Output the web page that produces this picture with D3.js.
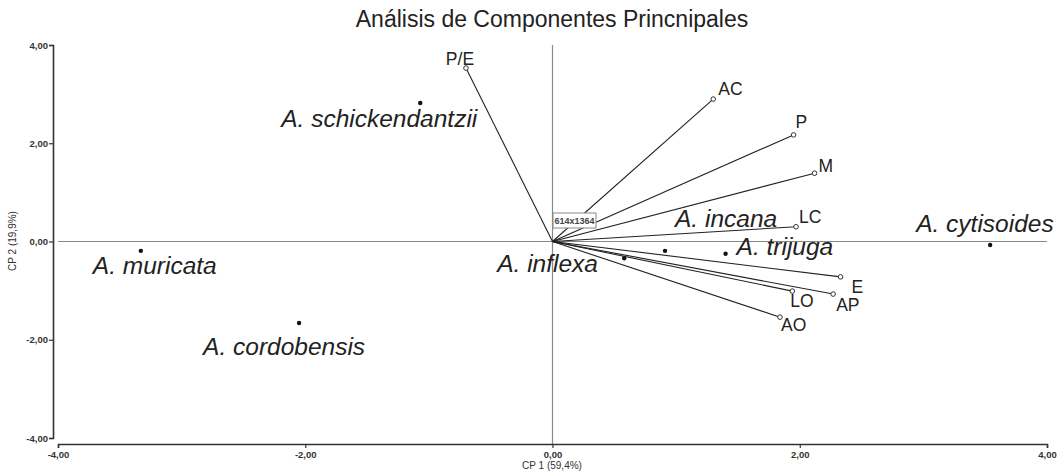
<!DOCTYPE html>
<html>
<head>
<meta charset="utf-8">
<script src="https://cdn.jsdelivr.net/npm/d3@7"></script>
<style>
  body { margin: 0; background: #fff; }
  svg text { font-family: "Liberation Sans", Arial, sans-serif; }
</style>
</head>
<body>
<div id="chart"></div>
<script>
// species scores
var species = ["A. muricata", "A. cordobensis", "A. schickendantzii", "A. inflexa", "A. incana", "A. trijuga", "A. cytisoides"];
var speciesX = [-3.33, -2.05, -1.07, 0.58, 0.91, 1.40, 3.54];
var speciesY = [-0.19, -1.66, 2.82, -0.34, -0.19, -0.25, -0.07];

// variable loadings
var variables = ["P/E", "AC", "P", "M", "LC", "E", "AP", "LO", "AO"];
var varX = [-0.70, 1.30, 1.95, 2.12, 1.97, 2.33, 2.27, 1.94, 1.84];
var varY = [3.53, 2.90, 2.17, 1.39, 0.30, -0.72, -1.07, -1.01, -1.54];

var ticks = [-4, -2, 0, 2, 4];

var width = 1063, height = 473;

var svg = d3.select("#chart").append("svg")
    .attr("width", width)
    .attr("height", height);

var x = d3.scaleLinear().domain([-4, 4]).range([58, 1047]);
var y = d3.scaleLinear().domain([-4, 4]).range([438, 45]);

var fmt = function(d) { return d3.format(".2f")(d).replace(".", ",").replace("\u2212", "-"); };

// title
svg.append("text")
    .attr("x", 552).attr("y", 27)
    .attr("text-anchor", "middle")
    .style("font-size", "23px")
    .style("fill", "#222")
    .text("Análisis de Componentes Princnipales");

// zero lines
svg.append("line")
    .attr("x1", x(-4)).attr("x2", x(4))
    .attr("y1", y(0)).attr("y2", y(0))
    .style("stroke", "#888").style("stroke-width", 1.2);
svg.append("line")
    .attr("x1", x(0)).attr("x2", x(0))
    .attr("y1", y(4)).attr("y2", 444)
    .style("stroke", "#888").style("stroke-width", 1.2);

// axes
var yAxis = svg.append("g")
    .attr("transform", "translate(53,0)")
    .call(d3.axisLeft(y).tickValues(ticks).tickFormat(fmt).tickSizeOuter(0).tickSize(4));
var xAxis = svg.append("g")
    .attr("transform", "translate(0,444)")
    .call(d3.axisBottom(x).tickValues(ticks).tickFormat(fmt).tickSizeOuter(0).tickSize(4));

[xAxis, yAxis].forEach(function(a) {
    a.select(".domain").style("stroke", "#333").style("stroke-width", 1.6);
    a.selectAll(".tick line").style("stroke", "#333").style("stroke-width", 1.2);
    a.selectAll(".tick text")
        .style("font-size", "9.5px")
        .style("font-weight", "bold")
        .style("fill", "#333")
        .style("font-family", "'Liberation Sans Narrow', 'Liberation Sans', Arial, sans-serif");
});
yAxis.selectAll(".tick text").attr("x", -5);

// axis titles
svg.append("text")
    .attr("x", 552).attr("y", 469)
    .attr("text-anchor", "middle")
    .style("font-size", "10px")
    .style("fill", "#333")
    .text("CP 1 (59,4%)");
svg.append("text")
    .attr("transform", "translate(16,241) rotate(-90)")
    .attr("text-anchor", "middle")
    .style("font-size", "10px")
    .style("fill", "#333")
    .text("CP 2 (19,9%)");

// vectors
var varLabelOff = {
    "P/E": [-6, -3, "middle"], "AC": [5, -4, "start"], "P": [2, -7, "start"],
    "M": [4, -1, "start"], "LC": [3, -4, "start"], "E": [11, 16, "start"],
    "AP": [3, 17, "start"], "LO": [-2, 16, "start"], "AO": [1, 14, "start"]
};

var vecs = svg.append("g").selectAll("g")
    .data(variables)
    .enter().append("g");

vecs.append("line")
    .attr("x1", x(0)).attr("y1", y(0))
    .attr("x2", function(d, i) { return x(varX[i]); })
    .attr("y2", function(d, i) { return y(varY[i]); })
    .style("stroke", "#222").style("stroke-width", 1.1);

// the small size box over the origin
svg.append("rect")
    .attr("x", 553).attr("y", 213).attr("width", 43).attr("height", 15)
    .style("fill", "#fff").style("stroke", "#888").style("stroke-width", 1);
svg.append("text")
    .attr("x", 574.5).attr("y", 224)
    .attr("text-anchor", "middle")
    .style("font-size", "9px")
    .style("font-weight", "bold")
    .style("fill", "#444")
    .style("font-family", "'Liberation Sans Narrow', 'Liberation Sans', Arial, sans-serif")
    .text("614x1364");

vecs.append("circle")
    .attr("cx", function(d, i) { return x(varX[i]); })
    .attr("cy", function(d, i) { return y(varY[i]); })
    .attr("r", 2.3)
    .style("fill", "#fff").style("stroke", "#333").style("stroke-width", 1);

vecs.append("text")
    .attr("x", function(d, i) { return x(varX[i]) + varLabelOff[d][0]; })
    .attr("y", function(d, i) { return y(varY[i]) + varLabelOff[d][1]; })
    .attr("text-anchor", function(d) { return varLabelOff[d][2]; })
    .style("font-size", "17.5px")
    .style("fill", "#222")
    .text(function(d) { return d; });

// species
var spLabelOff = {
    "A. muricata": [-48, 23], "A. cordobensis": [-96, 32], "A. schickendantzii": [-139, 24],
    "A. inflexa": [-127, 14], "A. incana": [10, -24], "A. trijuga": [11, 1], "A. cytisoides": [-74, -13]
};

var sp = svg.append("g").selectAll("g")
    .data(species)
    .enter().append("g");

sp.append("circle")
    .attr("cx", function(d, i) { return x(speciesX[i]); })
    .attr("cy", function(d, i) { return y(speciesY[i]); })
    .attr("r", 2.2)
    .style("fill", "#111");

sp.append("text")
    .attr("x", function(d, i) { return x(speciesX[i]) + spLabelOff[d][0]; })
    .attr("y", function(d, i) { return y(speciesY[i]) + spLabelOff[d][1]; })
    .style("font-size", "24.5px")
    .style("font-style", "italic")
    .style("fill", "#222")
    .text(function(d) { return d; });
</script>
</body>
</html>
